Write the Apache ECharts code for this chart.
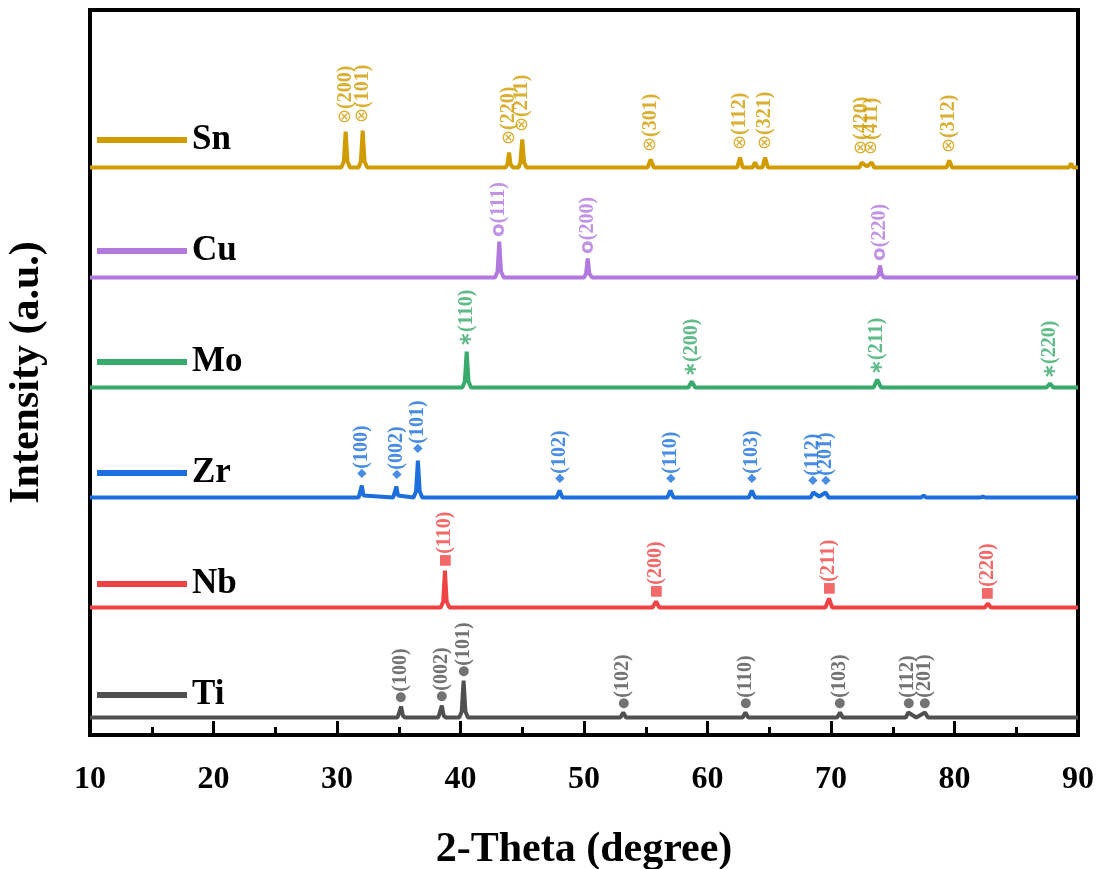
<!DOCTYPE html>
<html>
<head>
<meta charset="utf-8">
<title>XRD patterns</title>
<script src="https://cdn.jsdelivr.net/npm/echarts@6/dist/echarts.min.js"></script>
<style>
  html, body { margin: 0; padding: 0; background: #fff; }
  #chart { width: 1102px; height: 869px; }
</style>
</head>
<body>
<div id="chart"></div>
<script>
// samples from bottom to top of the stack
const samples = ['Ti', 'Nb', 'Zr', 'Mo', 'Cu', 'Sn'];
const legendOrder = ['Sn', 'Cu', 'Mo', 'Zr', 'Nb', 'Ti'];

// traces: [2-theta, intensity (a.u.)], baseline 0
const tiTrace = [[10, 0], [34.9, 0], [35.05, 2], [35.19, 11], [35.33, 2], [35.5, 0],
  [38.2, 0], [38.35, 2], [38.49, 12], [38.63, 2], [38.8, 0], [39.9, 0], [40.1, 6], [40.25, 37], [40.4, 6], [40.6, 0],
  [52.95, 0], [53.18, 5], [53.4, 0], [62.85, 0], [63.07, 5], [63.3, 0], [70.5, 0], [70.73, 5], [70.95, 0],
  [76.05, 0], [76.26, 5], [76.9, 0], [77.61, 5], [77.85, 0], [90, 0]];
const nbTrace = [[10, 0], [38.4, 0], [38.6, 6], [38.74, 37], [38.88, 6], [39.1, 0],
  [55.55, 0], [55.83, 6], [56.1, 0], [69.55, 0], [69.84, 9], [70.1, 0], [82.45, 0], [82.7, 4], [82.95, 0], [90, 0]];
const zrTrace = [[10, 0], [31.75, 0], [31.88, 2], [32.01, 12], [32.14, 2], [32.3, 0],
  [34.55, 0], [34.68, 2], [34.81, 11], [34.94, 2], [35.1, 0], [36.2, 0], [36.4, 6], [36.55, 37], [36.7, 6], [36.9, 0],
  [47.78, 0], [48.02, 7], [48.25, 0], [56.75, 0], [57.0, 7], [57.25, 0], [63.35, 0], [63.59, 7], [63.85, 0],
  [68.35, 0], [68.56, 5], [69.05, 1], [69.57, 5], [69.8, 0], [77.3, 0], [77.5, 2], [77.7, 0],
  [82.1, 0], [82.3, 1], [82.5, 0], [90, 0]];
const moTrace = [[10, 0], [40.15, 0], [40.35, 6], [40.5, 36], [40.65, 6], [40.85, 0],
  [58.45, 0], [58.72, 6], [59.0, 0], [73.45, 0], [73.75, 8], [74.05, 0], [87.45, 0], [87.73, 4], [88.0, 0], [90, 0]];
const cuTrace = [[10, 0], [42.8, 0], [43.0, 6], [43.14, 36], [43.28, 6], [43.5, 0],
  [50.0, 0], [50.17, 4], [50.3, 19], [50.43, 4], [50.65, 0], [73.7, 0], [73.85, 3], [73.97, 12], [74.1, 3], [74.3, 0], [90, 0]];
const snTrace = [[10, 0], [30.35, 0], [30.55, 6], [30.7, 36], [30.85, 6], [31.05, 0],
  [31.75, 0], [31.93, 6], [32.08, 37], [32.23, 6], [32.45, 0], [43.65, 0], [43.8, 3], [43.93, 15], [44.06, 3], [44.25, 0],
  [44.7, 0], [44.85, 5], [45.0, 28], [45.15, 5], [45.35, 0], [55.15, 0], [55.4, 8], [55.65, 0],
  [62.4, 0], [62.63, 10], [62.85, 0], [63.65, 0], [63.85, 5], [64.05, 0], [64.45, 0], [64.66, 10], [64.9, 0],
  [72.3, 0], [72.49, 5], [72.9, 1], [73.3, 5], [73.5, 0], [79.35, 0], [79.58, 7], [79.8, 0],
  [89.25, 0], [89.43, 4], [89.6, 0], [90, 0]];

// indexed reflections: [2-theta, peak intensity, hkl]
const tiPeaks = [[35.19, 11, '(100)'], [38.49, 12, '(002)'], [40.25, 37, '(101)'], [53.18, 5, '(102)'],
  [63.07, 5, '(110)'], [70.73, 5, '(103)'], [76.26, 5, '(112)'], [77.61, 5, '(201)']];
const nbPeaks = [[38.74, 37, '(110)'], [55.83, 6, '(200)'], [69.84, 9, '(211)'], [82.7, 4, '(220)']];
const zrPeaks = [[32.01, 12, '(100)'], [34.81, 11, '(002)'], [36.55, 37, '(101)'], [48.02, 7, '(102)'],
  [57.0, 7, '(110)'], [63.59, 7, '(103)'], [68.56, 5, '(112)'], [69.57, 5, '(201)']];
const moPeaks = [[40.5, 36, '(110)'], [58.72, 6, '(200)'], [73.75, 8, '(211)'], [87.73, 4, '(220)']];
const cuPeaks = [[43.14, 36, '(111)'], [50.3, 19, '(200)'], [73.97, 12, '(220)']];
const snPeaks = [[30.7, 36, '(200)'], [32.08, 37, '(101)'], [43.93, 15, '(220)'], [45.0, 28, '(211)'],
  [55.4, 8, '(301)'], [62.63, 10, '(112)'], [64.66, 10, '(321)'], [72.49, 5, '(420)'], [73.3, 5, '(411)'],
  [79.58, 7, '(312)']];

const traces = { Ti: tiTrace, Nb: nbTrace, Zr: zrTrace, Mo: moTrace, Cu: cuTrace, Sn: snTrace };
const peaks = { Ti: tiPeaks, Nb: nbPeaks, Zr: zrPeaks, Mo: moPeaks, Cu: cuPeaks, Sn: snPeaks };

const colors = { Ti: '#505050', Nb: '#EF4343', Zr: '#1C6FDD', Mo: '#38AA6C', Cu: '#B178DE', Sn: '#D09C00' };
const marks = { Ti: '●', Nb: '■', Zr: '◆', Mo: '∗', Cu: 'o', Sn: '⊗' };
const markSize = { Ti: 13, Nb: 14, Zr: 12, Mo: 18, Cu: 20, Sn: 18 };
const labelGap = { Ti: 3, Nb: 3, Zr: 7, Mo: 4, Cu: 4, Sn: 7 };
const stackStep = 110;
const serif = '"Times New Roman", "Liberation Serif", serif';

const series = [];
samples.forEach((name, i) => {
  const shift = i * stackStep;
  const color = colors[name];
  series.push({
    name: name,
    type: 'line',
    data: traces[name].map(p => [p[0], p[1] + shift]),
    showSymbol: false,
    silent: true,
    lineStyle: { width: 4, color: color },
    itemStyle: { color: color },
    z: 2
  });
  series.push({
    name: name + ' hkl',
    type: 'scatter',
    silent: true,
    symbolSize: 1,
    itemStyle: { color: 'transparent' },
    data: peaks[name].map(p => ({ value: [p[0], p[1] + shift], hkl: p[2] })),
    label: {
      show: true,
      position: 'top',
      distance: labelGap[name],
      rotate: 90,
      align: 'left',
      verticalAlign: 'middle',
      color: color,
      fontFamily: serif,
      fontSize: 20,
      fontWeight: 'bold',
      formatter: p => '{m|' + marks[name] + '}' + p.data.hkl,
      rich: {
        m: { fontSize: markSize[name], fontFamily: 'DejaVu Sans', fontWeight: name === 'Sn' ? 'normal' : 'bold', color: color }
      }
    },
    z: 3
  });
});

const chart = echarts.init(document.getElementById('chart'));
chart.setOption({
  backgroundColor: '#fff',
  animation: false,
  grid: {
    left: 90, right: 24, top: 10, bottom: 134,
    containLabel: false, outerBoundsMode: 'none',
    show: true, borderColor: '#000', borderWidth: 4
  },
  legend: {
    data: legendOrder,
    orient: 'vertical',
    left: 97,
    top: 122,
    padding: 0,
    itemGap: 75,
    itemWidth: 90,
    itemHeight: 6,
    icon: 'rect',
    selectedMode: false,
    textStyle: { fontSize: 35, fontWeight: 'bold', fontFamily: serif, color: '#000', lineHeight: 36 }
  },
  xAxis: {
    type: 'value',
    position: 'bottom',
    min: 10,
    max: 90,
    interval: 10,
    name: '2-Theta (degree)',
    nameLocation: 'middle',
    nameGap: 94,
    nameTextStyle: { fontSize: 42, fontWeight: 'bold', fontFamily: serif, color: '#000' },
    axisLine: { onZero: false, lineStyle: { color: '#000', width: 4 } },
    // in this build "inside: true" puts the ticks below the axis line, as in the figure
    axisTick: { inside: true, length: 14, lineStyle: { color: '#000', width: 3 } },
    minorTick: { show: true, splitNumber: 2, length: 8, lineStyle: { color: '#000', width: 3 } },
    splitLine: { show: false },
    axisLabel: { fontSize: 32, fontWeight: 'bold', fontFamily: serif, color: '#000', margin: 29 }
  },
  yAxis: {
    type: 'value',
    min: -17.5,
    max: 707.5,
    name: 'Intensity (a.u.)',
    nameLocation: 'middle',
    nameRotate: 90,
    nameGap: 42,
    nameTextStyle: { fontSize: 42, fontWeight: 'bold', fontFamily: serif, color: '#000' },
    axisLine: { show: true, onZero: false, lineStyle: { color: '#000', width: 4 } },
    axisTick: { show: false },
    axisLabel: { show: false },
    splitLine: { show: false }
  },
  series: series
});
</script>
</body>
</html>
